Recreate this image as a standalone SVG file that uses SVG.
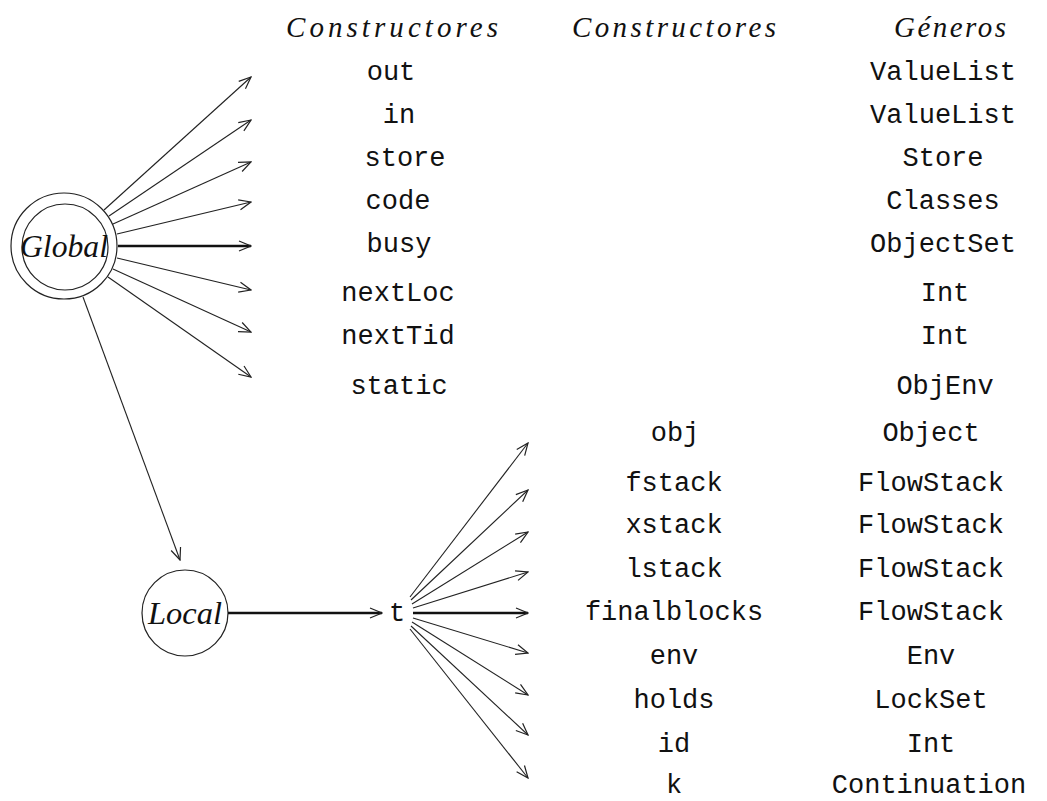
<svg xmlns="http://www.w3.org/2000/svg" width="1047" height="801" viewBox="0 0 1047 801">
<style>
.hdr{font-family:"Liberation Serif",serif;font-style:italic;font-size:29px;fill:#111;text-anchor:middle}
.lbl{font-family:"Liberation Serif",serif;font-style:italic;font-size:31px;fill:#111;text-anchor:middle}
.tt{font-family:"Liberation Mono","DejaVu Sans Mono",monospace;font-size:27px;fill:#111;text-anchor:middle}
.c{fill:none;stroke:#222;stroke-width:1.2}
.e{fill:none;stroke:#222;stroke-width:1.1;marker-end:url(#ah)}
.h{fill:none;stroke:#111;stroke-width:2.6;marker-end:url(#ah)}
</style>
<defs>
<marker id="ah" markerUnits="userSpaceOnUse" markerWidth="14" markerHeight="12" viewBox="0 0 14 12" refX="13" refY="6" orient="auto">
<path d="M1,1 L13,6 L1,11" fill="none" stroke="#222" stroke-width="1.2"/>
</marker>
</defs>
<rect width="1047" height="801" fill="#fff"/>
<g id="headers">
<text class="hdr" x="392" y="37" textLength="212" lengthAdjust="spacing">Constructores</text>
<text class="hdr" x="674" y="37" textLength="204" lengthAdjust="spacing">Constructores</text>
<text class="hdr" x="950" y="37" textLength="112" lengthAdjust="spacing">Géneros</text>
</g>
<g id="global">
<circle class="c" cx="64" cy="246" r="53"/>
<circle class="c" cx="65" cy="247" r="43"/>
<text class="lbl" x="64" y="257" textLength="88" lengthAdjust="spacingAndGlyphs">Global</text>
</g>
<g id="local">
<circle class="c" cx="185" cy="613" r="43"/>
<text class="lbl" x="185" y="624" textLength="74" lengthAdjust="spacingAndGlyphs">Local</text>
</g>
<g id="t"><text class="tt" x="397" y="621">t</text></g>
<g id="col1">
<text class="tt" x="391" y="80">out</text>
<text class="tt" x="399" y="123">in</text>
<text class="tt" x="405" y="166">store</text>
<text class="tt" x="398" y="209">code</text>
<text class="tt" x="399" y="252">busy</text>
<text class="tt" x="398" y="301">nextLoc</text>
<text class="tt" x="398" y="344">nextTid</text>
<text class="tt" x="399" y="394">static</text>
</g>
<g id="col2">
<text class="tt" x="675" y="441">obj</text>
<text class="tt" x="674" y="491">fstack</text>
<text class="tt" x="674" y="533">xstack</text>
<text class="tt" x="674" y="577">lstack</text>
<text class="tt" x="674" y="620">finalblocks</text>
<text class="tt" x="674" y="664">env</text>
<text class="tt" x="674" y="708">holds</text>
<text class="tt" x="674" y="752">id</text>
<text class="tt" x="674" y="793">k</text>
</g>
<g id="col3">
<text class="tt" x="943" y="80">ValueList</text>
<text class="tt" x="943" y="123">ValueList</text>
<text class="tt" x="943" y="166">Store</text>
<text class="tt" x="943" y="209">Classes</text>
<text class="tt" x="943" y="252">ObjectSet</text>
<text class="tt" x="945" y="301">Int</text>
<text class="tt" x="945" y="344">Int</text>
<text class="tt" x="945" y="394">ObjEnv</text>
<text class="tt" x="931" y="441">Object</text>
<text class="tt" x="931" y="491">FlowStack</text>
<text class="tt" x="931" y="533">FlowStack</text>
<text class="tt" x="931" y="577">FlowStack</text>
<text class="tt" x="931" y="620">FlowStack</text>
<text class="tt" x="931" y="664">Env</text>
<text class="tt" x="931" y="708">LockSet</text>
<text class="tt" x="931" y="752">Int</text>
<text class="tt" x="929" y="793">Continuation</text>
</g>
<g id="connectors">
<path class="e" d="M104,210 L251,77"/>
<path class="e" d="M109,216 L251,120"/>
<path class="e" d="M113,224 L251,162"/>
<path class="e" d="M117,234 L251,202"/>
<path class="h" d="M118,246 L251,246"/>
<path class="e" d="M117,258 L251,290"/>
<path class="e" d="M113,269 L251,332"/>
<path class="e" d="M108,277 L251,377"/>
<path class="e" d="M83,297 L180,560"/>
<path class="h" d="M228,613 L382,613"/>
<path class="e" d="M410,597 L528,443"/>
<path class="e" d="M411,600 L528,490"/>
<path class="e" d="M412,604 L528,532"/>
<path class="e" d="M413,608 L528,572"/>
<path class="h" d="M413,613 L528,613"/>
<path class="e" d="M413,618 L528,653"/>
<path class="e" d="M412,622 L528,695"/>
<path class="e" d="M411,626 L528,735"/>
<path class="e" d="M410,629 L528,778"/>
</g>
</svg>
